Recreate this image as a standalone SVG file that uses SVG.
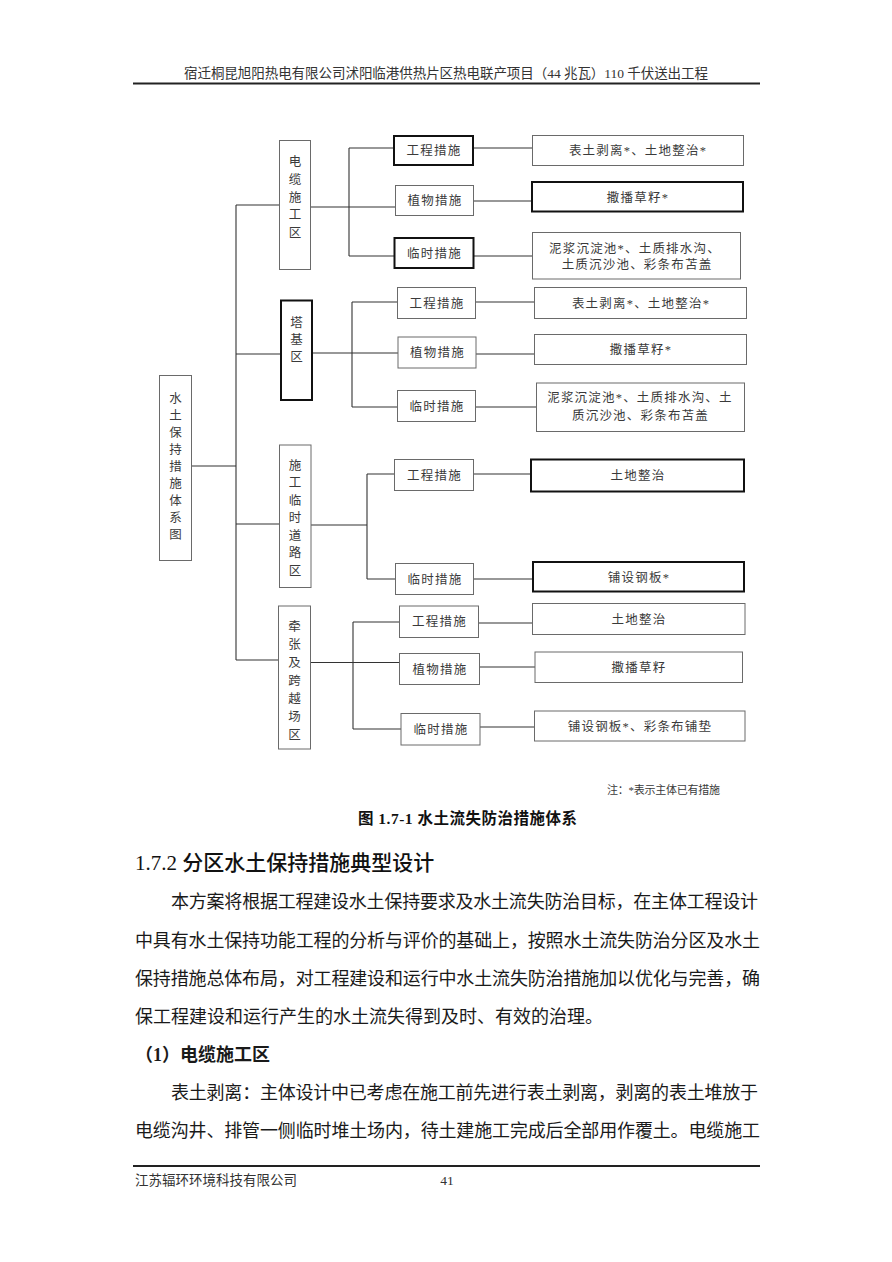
<svg xmlns="http://www.w3.org/2000/svg" width="892" height="1262" viewBox="0 0 892 1262">
<style>
.bg{fill:#fff}
.thin{fill:#fff;stroke:#6a6a6a;stroke-width:1}
.thick{fill:#fff;stroke:#111;stroke-width:2}
.ln{stroke:#333;stroke-width:1.1;fill:none}
.t{font-family:"Liberation Serif","Noto Sans CJK SC",serif;font-size:12.5px;fill:#3a3a3a;letter-spacing:1.2px}
.tc{text-anchor:middle}
.v{font-family:"Noto Sans CJK SC",sans-serif;font-size:12.5px;fill:#3a3a3a;text-anchor:middle}
.body{font-family:"Liberation Serif","Noto Sans CJK SC",serif;font-size:18px;fill:#1a1a1a}
.hdr{font-family:"Liberation Serif","Noto Sans CJK SC",serif;font-size:13.5px;fill:#333}
</style>
<rect class="bg" x="0" y="0" width="892" height="1262"/>

<g id="page-header">
<text class="hdr" x="184" y="78" textLength="524" lengthAdjust="spacing">宿迁桐昆旭阳热电有限公司沭阳临港供热片区热电联产项目（44 兆瓦）110 千伏送出工程</text>
<line x1="133" y1="83.5" x2="760" y2="83.5" stroke="#222" stroke-width="2"/>
</g>

<g id="connectors">
<path class="ln" d="M192 466H236M236 205V660M236 205H279M236 354H280M236 524H279M236 660H278"/>
<path class="ln" d="M310 207H349M349 148V256M349 148H394M349 207H395M349 256H394"/>
<path class="ln" d="M473 148H532M474 201H532M473 256H532"/>
<path class="ln" d="M312 353H352M352 302V407M352 302H397M352 353H398M352 407H397"/>
<path class="ln" d="M475 302H534M476 354H534M476 407H536"/>
<path class="ln" d="M311 525H367M367 474V579M367 474H394M367 579H395"/>
<path class="ln" d="M473 474H531M474 579H533"/>
<path class="ln" d="M311 662.5H399M353 622V729M353 622H399M353 729H401"/>
<path class="ln" d="M478 623H532M479 667H535M480 727H534"/>
</g>

<g id="root">
<rect class="thin" x="159.5" y="375.5" width="32" height="185"/>
<text class="v" x="175.5" y="402.5"><tspan x="175.5">水</tspan><tspan x="175.5" dy="17.1">土</tspan><tspan x="175.5" dy="17.1">保</tspan><tspan x="175.5" dy="17.1">持</tspan><tspan x="175.5" dy="17.1">措</tspan><tspan x="175.5" dy="17.1">施</tspan><tspan x="175.5" dy="17.1">体</tspan><tspan x="175.5" dy="17.1">系</tspan><tspan x="175.5" dy="17.1">图</tspan></text>
</g>

<g id="zone-cable">
<rect class="thin" x="279.5" y="140.5" width="31" height="129"/>
<text class="v" x="295" y="166.3"><tspan x="295">电</tspan><tspan x="295" dy="17.6">缆</tspan><tspan x="295" dy="17.6">施</tspan><tspan x="295" dy="17.6">工</tspan><tspan x="295" dy="17.6">区</tspan></text>
</g>
<g id="cable-eng">
<rect class="thick" x="394" y="136" width="79" height="29"/>
<text class="t tc" x="434" y="155">工程措施</text>
</g>
<g id="cable-plant">
<rect class="thin" x="395.5" y="185.5" width="78" height="30"/>
<text class="t tc" x="435" y="205">植物措施</text>
</g>
<g id="cable-temp">
<rect class="thick" x="394.5" y="238" width="79" height="30"/>
<text class="t tc" x="434.5" y="257.5">临时措施</text>
</g>
<g id="cable-eng-res">
<rect class="thin" x="532.5" y="135.5" width="211" height="30"/>
<text class="t tc" x="638" y="155">表土剥离*、土地整治*</text>
</g>
<g id="cable-plant-res">
<rect class="thick" x="532" y="182" width="211" height="29.5"/>
<text class="t tc" x="638" y="201.5">撒播草籽*</text>
</g>
<g id="cable-temp-res">
<rect class="thin" x="532.5" y="232.5" width="208" height="46.5"/>
<text class="t tc" x="635" y="253">泥浆沉淀池*、土质排水沟、</text>
<text class="t tc" x="637" y="269">土质沉沙池、彩条布苫盖</text>
</g>

<g id="zone-tower">
<rect class="thick" x="281" y="300.5" width="31" height="99.5"/>
<text class="v" x="296.5" y="327.3"><tspan x="296.5">塔</tspan><tspan x="296.5" dy="16.7">基</tspan><tspan x="296.5" dy="16.7">区</tspan></text>
</g>
<g id="tower-eng">
<rect class="thin" x="397.5" y="287.5" width="78" height="31"/>
<text class="t tc" x="437" y="307.5">工程措施</text>
</g>
<g id="tower-plant">
<rect class="thin" x="398" y="337" width="78" height="31"/>
<text class="t tc" x="437.5" y="357">植物措施</text>
</g>
<g id="tower-temp">
<rect class="thin" x="397.5" y="390.5" width="78" height="31"/>
<text class="t tc" x="437" y="410.5">临时措施</text>
</g>
<g id="tower-eng-res">
<rect class="thin" x="534.5" y="287.5" width="212" height="31"/>
<text class="t tc" x="641" y="307.5">表土剥离*、土地整治*</text>
</g>
<g id="tower-plant-res">
<rect class="thin" x="534.5" y="334.5" width="212" height="30"/>
<text class="t tc" x="641" y="354">撒播草籽*</text>
</g>
<g id="tower-temp-res">
<rect class="thin" x="536.5" y="383" width="208" height="48.5"/>
<text class="t tc" x="640" y="402">泥浆沉淀池*、土质排水沟、土</text>
<text class="t tc" x="640.5" y="419.5">质沉沙池、彩条布苫盖</text>
</g>

<g id="zone-road">
<rect class="thin" x="279.5" y="445" width="31.5" height="142.5"/>
<text class="v" x="295" y="469.6"><tspan x="295">施</tspan><tspan x="295" dy="17.5">工</tspan><tspan x="295" dy="17.5">临</tspan><tspan x="295" dy="17.5">时</tspan><tspan x="295" dy="17.5">道</tspan><tspan x="295" dy="17.5">路</tspan><tspan x="295" dy="17.5">区</tspan></text>
</g>
<g id="road-eng">
<rect class="thin" x="394.5" y="459.5" width="79" height="31"/>
<text class="t tc" x="434.5" y="479.5">工程措施</text>
</g>
<g id="road-temp">
<rect class="thin" x="395.5" y="563.5" width="78" height="31"/>
<text class="t tc" x="435" y="583.5">临时措施</text>
</g>
<g id="road-eng-res">
<rect class="thick" x="531" y="459.5" width="213" height="32"/>
<text class="t tc" x="638" y="480">土地整治</text>
</g>
<g id="road-temp-res">
<rect class="thick" x="533" y="562" width="211" height="29.5"/>
<text class="t tc" x="639" y="581.5">铺设钢板*</text>
</g>

<g id="zone-pull">
<rect class="thin" x="278.5" y="606" width="32" height="143"/>
<text class="v" x="294.5" y="631.3"><tspan x="294.5">牵</tspan><tspan x="294.5" dy="17.9">张</tspan><tspan x="294.5" dy="17.9">及</tspan><tspan x="294.5" dy="17.9">跨</tspan><tspan x="294.5" dy="17.9">越</tspan><tspan x="294.5" dy="17.9">场</tspan><tspan x="294.5" dy="17.9">区</tspan></text>
</g>
<g id="pull-eng">
<rect class="thin" x="399.5" y="606" width="79" height="31.5"/>
<text class="t tc" x="439.5" y="626">工程措施</text>
</g>
<g id="pull-plant">
<rect class="thin" x="399.5" y="653.5" width="80" height="31"/>
<text class="t tc" x="440" y="673.5">植物措施</text>
</g>
<g id="pull-temp">
<rect class="thin" x="401" y="713.5" width="79" height="31.5"/>
<text class="t tc" x="441" y="733.5">临时措施</text>
</g>
<g id="pull-eng-res">
<rect class="thin" x="532.5" y="603.5" width="212.5" height="31"/>
<text class="t tc" x="639" y="623.5">土地整治</text>
</g>
<g id="pull-plant-res">
<rect class="thin" x="535" y="652" width="207.5" height="30.5"/>
<text class="t tc" x="639" y="671.5">撒播草籽</text>
</g>
<g id="pull-temp-res">
<rect class="thin" x="534.5" y="711" width="210.5" height="30"/>
<text class="t tc" x="640" y="730.5">铺设钢板*、彩条布铺垫</text>
</g>

<g id="note">
<text x="607" y="793.5" font-family="Liberation Serif,Noto Sans CJK SC,serif" font-size="11" fill="#3a3a3a" textLength="113" lengthAdjust="spacing">注：*表示主体已有措施</text>
</g>

<g id="caption">
<text x="358" y="823.5" font-family="Liberation Serif,Noto Sans CJK SC,serif" font-size="15.5" font-weight="bold" fill="#111" textLength="219" lengthAdjust="spacing">图 1.7-1  水土流失防治措施体系</text>
</g>

<g id="section">
<text x="135" y="870" font-family="Liberation Serif,Noto Sans CJK SC,serif" font-size="21" font-weight="500" fill="#111">1.7.2 分区水土保持措施典型设计</text>
<text class="body" x="171" y="908" textLength="587" lengthAdjust="spacing">本方案将根据工程建设水土保持要求及水土流失防治目标，在主体工程设计</text>
<text class="body" x="135" y="947" textLength="625" lengthAdjust="spacing">中具有水土保持功能工程的分析与评价的基础上，按照水土流失防治分区及水土</text>
<text class="body" x="135" y="985" textLength="625" lengthAdjust="spacing">保持措施总体布局，对工程建设和运行中水土流失防治措施加以优化与完善，确</text>
<text class="body" x="135" y="1023">保工程建设和运行产生的水土流失得到及时、有效的治理。</text>
<text class="body" x="135" y="1061" font-weight="bold">（1）电缆施工区</text>
<text class="body" x="171" y="1099" textLength="587" lengthAdjust="spacing">表土剥离：主体设计中已考虑在施工前先进行表土剥离，剥离的表土堆放于</text>
<text class="body" x="135" y="1137" textLength="625" lengthAdjust="spacing">电缆沟井、排管一侧临时堆土场内，待土建施工完成后全部用作覆土。电缆施工</text>
</g>

<g id="page-footer">
<line x1="133" y1="1166" x2="760" y2="1166" stroke="#222" stroke-width="2"/>
<text class="hdr" x="135" y="1185">江苏辐环环境科技有限公司</text>
<text class="hdr" x="447" y="1185" text-anchor="middle">41</text>
</g>
</svg>
